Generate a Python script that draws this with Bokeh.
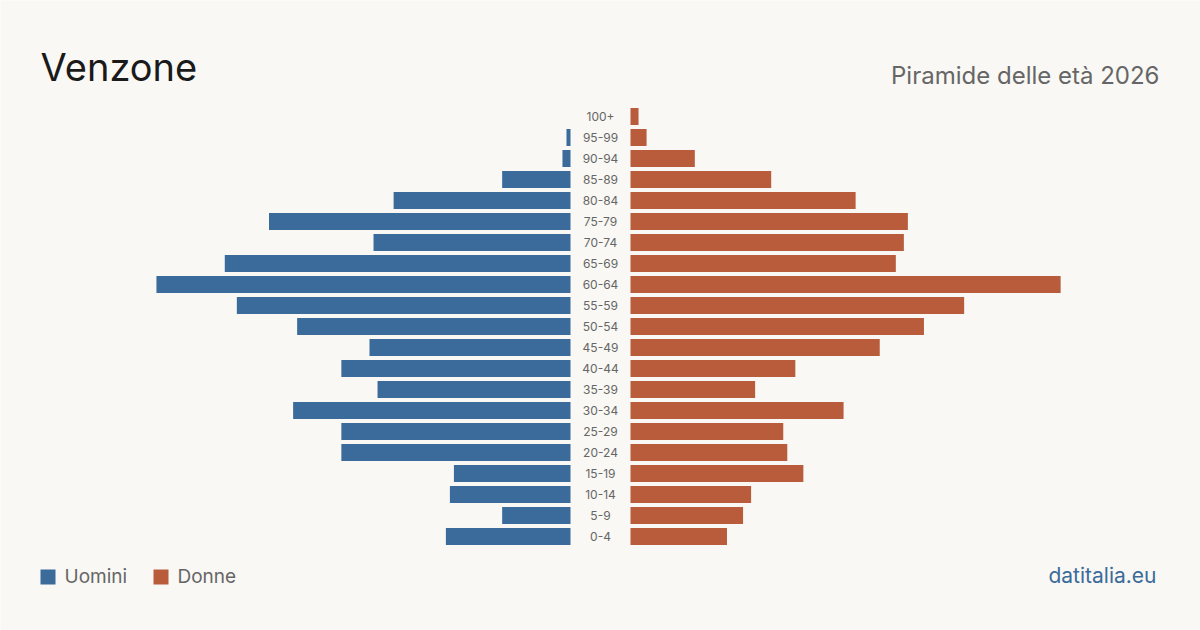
from bokeh.plotting import figure
from bokeh.models import Range1d, Label, ColumnDataSource
from bokeh.core.properties import value
from bokeh.embed import file_html
from bokeh.resources import INLINE

age_groups = ["0-4", "5-9", "10-14", "15-19", "20-24", "25-29", "30-34", "35-39",
              "40-44", "45-49", "50-54", "55-59", "60-64", "65-69", "70-74", "75-79",
              "80-84", "85-89", "90-94", "95-99", "100+"]
male = [31, 17, 30, 29, 57, 57, 69, 48, 57, 50, 68, 83, 103, 86, 49, 75, 44, 17, 2, 1, 0]
female = [24, 28, 30, 43, 39, 38, 53, 31, 41, 62, 73, 83, 107, 66, 68, 69, 56, 35, 16, 4, 2]

title_text = "Venzone"
subtitle_text = "Piramide delle età 2026"
legend_labels = ["Uomini", "Donne"]
source_text = "datitalia.eu"

BG = "#f9f8f4"
BLUE = "#3b6b9b"
RED = "#b85c3c"
FONT = "Inter"

W, H = 1200, 630
PX_PER = 4.02          # pixels per person
HALF_GAP = 30 / PX_PER  # half of the central label gap, in persons
ROW = 21.0             # pixels per row
ROW0_PX = 536.0        # pixel y of first row centre (from top)

x0 = -600 / PX_PER
x1 = 600 / PX_PER
y_bottom = (ROW0_PX - H) / ROW
y_top = ROW0_PX / ROW

p = figure(width=W, height=H, output_backend="svg", toolbar_location=None,
           x_range=Range1d(x0, x1), y_range=Range1d(y_bottom, y_top),
           x_axis_location=None, y_axis_location=None, min_border=0,
           background_fill_color=BG, border_fill_color=BG, outline_line_color=None)
p.xgrid.visible = False
p.ygrid.visible = False

idx = list(range(len(age_groups)))
src = ColumnDataSource(dict(
    y=idx,
    age=age_groups,
    m_left=[-HALF_GAP - m for m in male],
    m_right=[-HALF_GAP] * len(male),
    f_left=[HALF_GAP] * len(female),
    f_right=[HALF_GAP + f for f in female],
    zero=[0] * len(idx),
))

p.hbar(y="y", left="m_left", right="m_right", height=17 / ROW, source=src,
       fill_color=BLUE, line_color=None)
p.hbar(y="y", left="f_left", right="f_right", height=17 / ROW, source=src,
       fill_color=RED, line_color=None)
p.text(x="zero", y="y", text="age", source=src, text_align="center",
       text_baseline="middle", text_font=value(FONT), text_font_size="12px",
       text_color="#666666")

# Titles
p.add_layout(Label(x=40, y=H - 81 + 15, x_units="screen", y_units="screen", text=title_text,
                   text_font=FONT, text_font_size="38px", text_color="#1a1a1a",
                   text_baseline="alphabetic", text_align="left"))
p.add_layout(Label(x=1159, y=H - 85 + 10, x_units="screen", y_units="screen", text=subtitle_text,
                   text_font=FONT, text_font_size="24px", text_color="#666666",
                   text_baseline="alphabetic", text_align="right"))

# Legend
leg_x = [(40 + 7.5 - 600) / PX_PER, (153 + 7.5 - 600) / PX_PER]
leg_y = [(ROW0_PX - 576.5) / ROW] * 2
p.rect(x=leg_x, y=leg_y, width=15 / PX_PER, height=15 / ROW,
       fill_color=[BLUE, RED], line_color=None)
p.add_layout(Label(x=64, y=H - 583 + 7, x_units="screen", y_units="screen", text=legend_labels[0],
                   text_font=FONT, text_font_size="19px", text_color="#666666",
                   text_baseline="alphabetic"))
p.add_layout(Label(x=177, y=H - 583 + 7, x_units="screen", y_units="screen", text=legend_labels[1],
                   text_font=FONT, text_font_size="19px", text_color="#666666",
                   text_baseline="alphabetic"))
p.add_layout(Label(x=1156, y=H - 583 + 8, x_units="screen", y_units="screen", text=source_text,
                   text_font=FONT, text_font_size="21px", text_color=BLUE,
                   text_baseline="alphabetic", text_align="right"))

open("out.html", "w").write(file_html(p, INLINE))
